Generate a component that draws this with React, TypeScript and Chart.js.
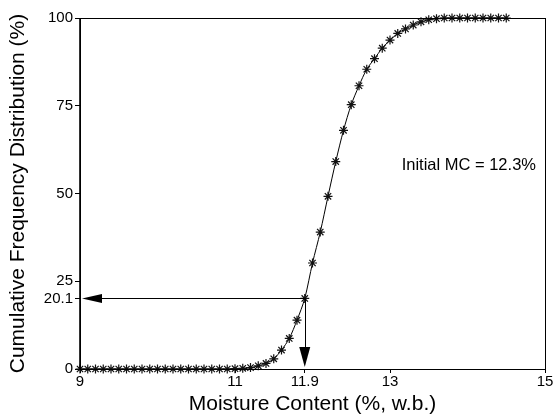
import React, { useEffect, useRef } from "react";
import { Chart, registerables } from "chart.js";

Chart.register(...registerables);

const moistureContent = [
  9.0, 9.1, 9.2, 9.3, 9.4, 9.5, 9.6, 9.7, 9.8, 9.9,
  10.0, 10.1, 10.2, 10.3, 10.4, 10.5, 10.6, 10.7, 10.8, 10.9,
  11.0, 11.1, 11.2, 11.3, 11.4, 11.5, 11.6, 11.7, 11.8, 11.9,
  12.0, 12.1, 12.2, 12.3, 12.4, 12.5, 12.6, 12.7, 12.8, 12.9,
  13.0, 13.1, 13.2, 13.3, 13.4, 13.5, 13.6, 13.7, 13.8, 13.9,
  14.0, 14.1, 14.2, 14.3, 14.4, 14.5,
];

const cumulativeFrequency = [
  0, 0, 0, 0, 0, 0, 0, 0, 0, 0,
  0, 0, 0, 0, 0, 0, 0, 0, 0, 0,
  0.1, 0.2, 0.4, 0.9, 1.6, 2.9, 5.4, 8.7, 13.9, 20.1,
  30.2, 39.0, 49.2, 59.1, 68.0, 75.3, 80.7, 85.4, 88.4, 91.4,
  93.7, 95.6, 96.9, 98.0, 98.9, 99.5, 99.8, 100, 100, 100,
  100, 100, 100, 100, 100, 100,
];

const xTickValues = [9, 11, 11.9, 13, 15];
const yTickValues = [0, 20.1, 25, 50, 75, 100];

const markerX = 11.9;
const markerY = 20.1;

const noteText = "Initial MC = 12.3%";
const noteX = 13.15;
const noteY = 58;

const xTitle = "Moisture Content (%, w.b.)";
const yTitle = "Cumulative Frequency Distribution (%)";

const FONT = "'Liberation Sans', Arial, Helvetica, sans-serif";

const overlayPlugin = {
  id: "overlay",
  afterDatasetsDraw(chart: any) {
    const { ctx, chartArea } = chart;
    const xs = chart.scales.x;
    const ys = chart.scales.y;
    ctx.save();
    // frame
    ctx.strokeStyle = "#000";
    ctx.lineWidth = 1;
    ctx.strokeRect(
      Math.round(chartArea.left) + 0.5,
      Math.round(chartArea.top) + 0.5,
      Math.round(chartArea.right - chartArea.left),
      Math.round(chartArea.bottom - chartArea.top)
    );
    ctx.lineWidth = 1.6;
    ctx.beginPath();
    ctx.moveTo(chartArea.left, chartArea.top);
    ctx.lineTo(chartArea.left, chartArea.bottom);
    ctx.stroke();

    const px = xs.getPixelForValue(markerX);
    const py = ys.getPixelForValue(markerY);
    const headLen = 20;
    const headHalf = 5;
    ctx.lineWidth = 1;
    ctx.fillStyle = "#000";
    // horizontal arrow to y axis
    const tipX = chartArea.left + 2;
    ctx.beginPath();
    ctx.moveTo(px, Math.round(py) + 0.5);
    ctx.lineTo(tipX + headLen, Math.round(py) + 0.5);
    ctx.stroke();
    ctx.beginPath();
    ctx.moveTo(tipX, py);
    ctx.lineTo(tipX + headLen, py - headHalf + 0.5);
    ctx.lineTo(tipX + headLen, py + headHalf - 0.5);
    ctx.closePath();
    ctx.fill();
    // vertical arrow to x axis
    const tipY = chartArea.bottom - 2;
    ctx.beginPath();
    ctx.moveTo(Math.round(px) + 0.5, py);
    ctx.lineTo(Math.round(px) + 0.5, tipY - headLen);
    ctx.stroke();
    ctx.beginPath();
    ctx.moveTo(px, tipY);
    ctx.lineTo(px - headHalf - 0.5, tipY - headLen);
    ctx.lineTo(px + headHalf + 0.5, tipY - headLen);
    ctx.closePath();
    ctx.fill();

    // note
    ctx.font = `16.5px ${FONT}`;
    ctx.textAlign = "left";
    ctx.textBaseline = "middle";
    ctx.fillText(noteText, xs.getPixelForValue(noteX), ys.getPixelForValue(noteY));
    ctx.restore();
  },
};

export default function App() {
  const canvasRef = useRef<HTMLCanvasElement | null>(null);

  useEffect(() => {
    if (!canvasRef.current) return;
    const points = moistureContent.map((x, i) => ({ x, y: cumulativeFrequency[i] }));
    const chart = new Chart(canvasRef.current, {
      type: "line",
      data: {
        datasets: [
          {
            data: points,
            borderColor: "#000",
            borderWidth: 1,
            pointStyle: "star",
            pointRadius: 4.5,
            pointBorderColor: "#111",
            pointBackgroundColor: "#111",
            pointBorderWidth: 1.2,
            tension: 0.3,
            clip: false as any,
          },
        ],
      },
      options: {
        animation: false,
        responsive: true,
        maintainAspectRatio: false,
        layout: { padding: { top: 18, right: 9, left: 0, bottom: 0 } },
        plugins: {
          legend: { display: false },
          tooltip: { enabled: false },
        },
        scales: {
          x: {
            type: "linear",
            min: 9,
            max: 15,
            afterBuildTicks: (scale: any) => {
              scale.ticks = xTickValues.map((v) => ({ value: v }));
            },
            afterFit: (scale: any) => {
              scale.height = 48;
            },
            ticks: {
              autoSkip: false,
              maxRotation: 0,
              color: "#000",
              font: { family: FONT, size: 15 },
              padding: 0,
              callback: (v: any) => String(v),
            },
            grid: {
              display: true,
              drawOnChartArea: false,
              drawTicks: true,
              tickLength: 4,
              color: "#000",
            },
            border: { display: true, color: "#000", width: 1 },
            title: {
              display: true,
              text: xTitle,
              color: "#000",
              font: { family: FONT, size: 21 },
              padding: { top: 0, bottom: 0 },
            },
          },
          y: {
            type: "linear",
            min: 0,
            max: 100,
            afterBuildTicks: (scale: any) => {
              scale.ticks = yTickValues.map((v) => ({ value: v }));
            },
            afterFit: (scale: any) => {
              scale.width = 80;
            },
            ticks: {
              autoSkip: false,
              color: "#000",
              font: { family: FONT, size: 15 },
              padding: 2,
              callback: (v: any) => String(v),
            },
            grid: {
              display: true,
              drawOnChartArea: false,
              drawTicks: true,
              tickLength: 5,
              color: "#000",
            },
            border: { display: true, color: "#000", width: 1 },
            title: {
              display: true,
              text: yTitle,
              color: "#000",
              font: { family: FONT, size: 21 },
              padding: { top: 6, bottom: 0 },
            },
          },
        },
      },
      plugins: [overlayPlugin],
    } as any);
    return () => chart.destroy();
  }, []);

  return (
    <div
      style={{
        position: "fixed",
        left: 0,
        top: 0,
        width: 554,
        height: 417,
        background: "#fff",
      }}
    >
      <canvas ref={canvasRef} />
    </div>
  );
}
